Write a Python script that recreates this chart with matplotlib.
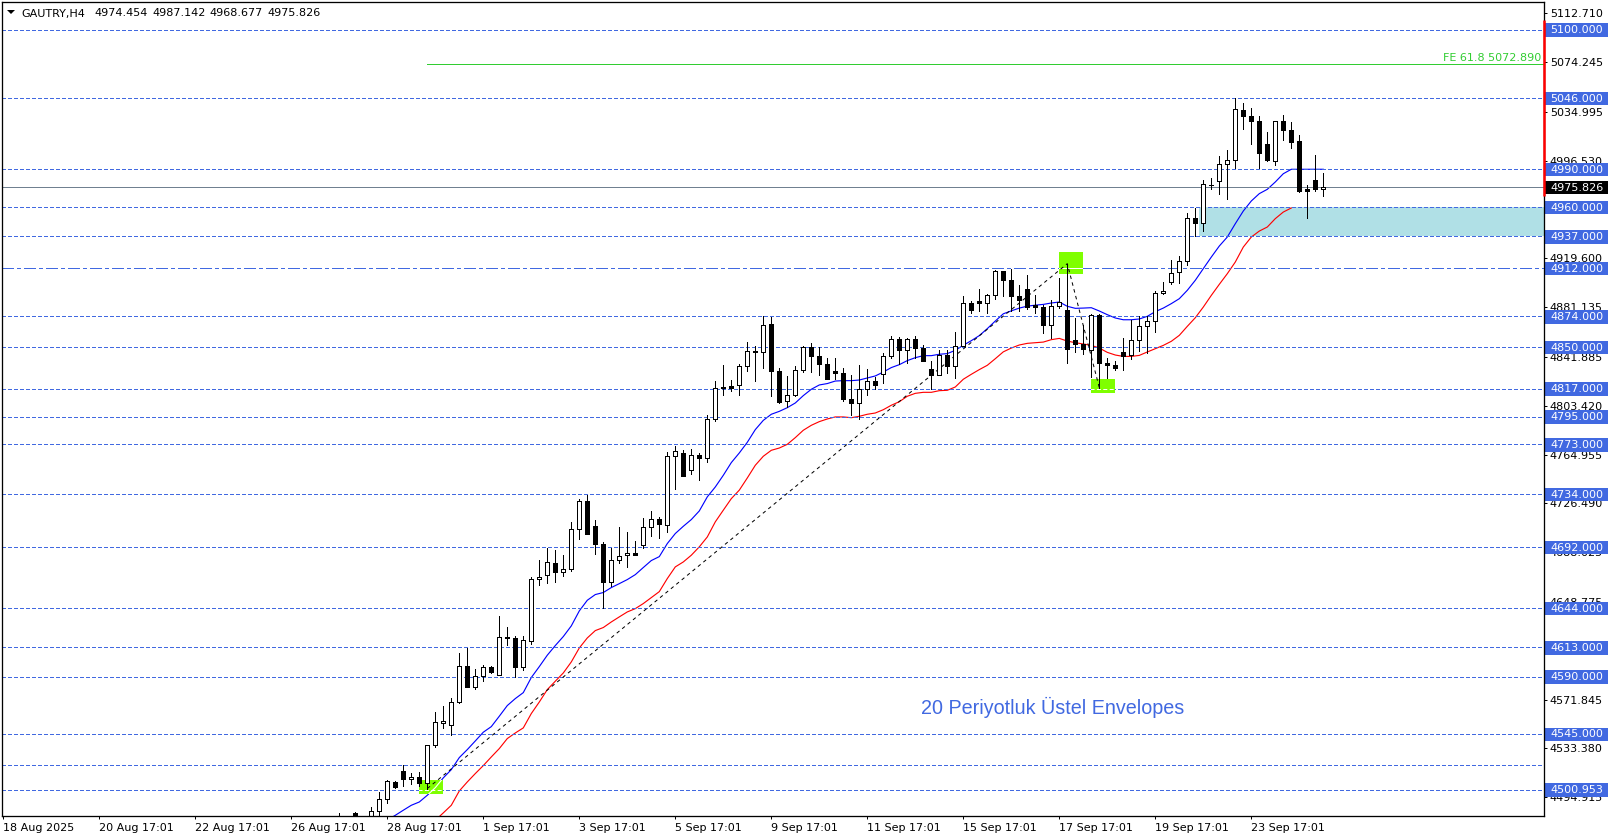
import matplotlib
matplotlib.use("Agg")
import matplotlib.pyplot as plt
from matplotlib.patches import Rectangle, Polygon

# chart values, bar number = first_bar + list position
first_bar = 42
opens = [4474, 4474, 4482.8, 4470, 4478, 4484.4, 4493.9, 4507.3, 4516, 4509.6,
         4511.2, 4506.5, 4536.4, 4553.8, 4552.2, 4570.3, 4598.7, 4582.2, 4590.8, 4597.9,
         4591.6, 4620.5, 4620.8, 4597.9, 4618.4, 4667.3, 4670.4, 4679.9, 4672.8, 4675.2,
         4706.7, 4728.8, 4709.1, 4694.9, 4664.9, 4682.3, 4686.2, 4687.8, 4694.1, 4708.3,
         4714.6, 4709.9, 4764.2, 4766.6, 4753.1, 4765, 4762.6, 4793.4, 4817.5, 4818.8,
         4820.2, 4835.1, 4846.9, 4846.2, 4868.2, 4831.2, 4807.5, 4812.3, 4832, 4850.1,
         4843, 4836.7, 4831.2, 4829.6, 4809.1, 4806, 4817, 4823.3, 4828.8, 4843,
         4856.4, 4847.7, 4856.4, 4849.3, 4832.8, 4828, 4843.8, 4835.1, 4850.9, 4884.8,
         4886.4, 4884.8, 4891.1, 4910, 4902.9, 4890.3, 4895.8, 4883.2, 4881.6, 4867.4,
         4882.4, 4879.2, 4855.6, 4852.4, 4847.7, 4875.3, 4837.5, 4835.9, 4846.1, 4843.8,
         4855.6, 4866.6, 4870.6, 4892.6, 4901.3, 4909.2, 4917.9, 4951.8, 4947.8, 4977.2,
         4980.9, 4994.3, 4997.5, 5036.9, 5032.2, 5028.2, 5010.1, 4996.7, 5028.2, 5021.1,
         5011.9, 4974.1, 4981.2, 4974.454]
highs = [4482.8, 4480.5, 4483.6, 4475, 4487.6, 4498.9, 4508.9, 4508, 4520.7, 4514.4,
         4515.2, 4536.4, 4562.5, 4567.2, 4573.5, 4609, 4612.9, 4596.3, 4599.5, 4598,
         4638.1, 4629.5, 4622.4, 4622.4, 4668.9, 4682.3, 4691.7, 4690.1, 4686.2, 4712.2,
         4730.3, 4733.5, 4713.8, 4696.5, 4691.7, 4708.3, 4704.3, 4697.2, 4715.4, 4720.9,
         4716.2, 4767.3, 4772.1, 4768.9, 4769.7, 4766.6, 4796.5, 4823.3, 4835.9, 4824.1,
         4836.7, 4854, 4850.9, 4874.5, 4873.8, 4833.6, 4827.2, 4835.1, 4850.9, 4853.3,
         4850.1, 4841.4, 4841.4, 4833.6, 4828, 4835.9, 4832.8, 4826.5, 4845.4, 4858.8,
         4858, 4857.2, 4858.8, 4851.7, 4839, 4847.7, 4847.7, 4861.9, 4890.3, 4886.4,
         4895.8, 4891.9, 4910.8, 4910, 4911.6, 4898.9, 4906.8, 4891.1, 4883.2, 4887.1,
         4904.5, 4915.5, 4872.9, 4867.4, 4876.1, 4876.1, 4841.4, 4839, 4857.2, 4871.3,
         4874.5, 4874.5, 4894.2, 4901.3, 4918.6, 4921.8, 4955.7, 4959.6, 4981.7, 4983.3,
         5000.6, 5005.3, 5046.3, 5042.4, 5038.5, 5032.2, 5019.5, 5028.2, 5032.9, 5027.4,
         5017.2, 4977.3, 5000.9, 4987.142]
lows = [4470, 4470, 4478.1, 4465, 4475, 4479.4, 4490.5, 4502.5, 4503.9, 4505.4,
        4503.9, 4501.8, 4534.6, 4549.6, 4544.1, 4569.6, 4582, 4580.6, 4586.6, 4593.2,
        4591.6, 4615.3, 4590, 4595.6, 4616, 4662.3, 4664.1, 4664.9, 4669.4, 4673.6,
        4698.8, 4702.8, 4687, 4644.4, 4661.8, 4679.9, 4676.5, 4686.2, 4691.7, 4701.2,
        4699.6, 4704.1, 4738, 4748, 4750, 4745, 4759.5, 4791.8, 4812.3, 4815.4,
        4812.3, 4831.2, 4823.3, 4833.6, 4811.5, 4806, 4802.8, 4811.5, 4830.4, 4830.4,
        4828, 4824.9, 4824.9, 4807.5, 4796.5, 4793.4, 4812.3, 4817, 4821.7, 4841.4,
        4836.7, 4837.5, 4841.4, 4839, 4817, 4828, 4829.6, 4825.7, 4850.9, 4876.9,
        4878.5, 4876.9, 4887.9, 4890, 4878.4, 4878.4, 4880, 4876.9, 4861.1, 4857.2,
        4880.8, 4837.5, 4846.1, 4844.5, 4826.4, 4817.8, 4825.6, 4832, 4832, 4840.6,
        4846.9, 4845.3, 4861.9, 4891.8, 4899.7, 4900.5, 4914.7, 4937.6, 4941.5, 4974.6,
        4970.7, 4966.7, 4991.2, 5021.9, 5010.1, 4991.2, 4996.7, 4993.5, 5013.2, 5006.9,
        4971.7, 4951.2, 4972.5, 4968.677]
closes = [4476, 4472, 4478.9, 4473, 4484.4, 4493.9, 4508.1, 4503.1, 4509.6, 4511.2,
          4506.5, 4536.4, 4554.6, 4555.4, 4570.3, 4598.7, 4582.2, 4590.8, 4597.9, 4594,
          4621.6, 4621, 4597.9, 4619.2, 4667.3, 4668.9, 4680.7, 4672.8, 4675.2, 4706.7,
          4728.8, 4702.8, 4694.9, 4664.9, 4682.3, 4685.4, 4687.8, 4686.2, 4708.3, 4714.6,
          4710.6, 4764.2, 4768.1, 4748.2, 4765, 4762.6, 4793.4, 4817.8, 4818, 4817.5,
          4835.1, 4846.9, 4845.9, 4867.4, 4831.2, 4806.7, 4812.3, 4832, 4850.1, 4843,
          4836.7, 4824.9, 4829.6, 4809.1, 4806, 4817, 4823.3, 4820.2, 4843, 4856.4,
          4847.7, 4856.4, 4849.3, 4839, 4828, 4843.8, 4835.1, 4850.9, 4884.8, 4879.3,
          4884.8, 4891.1, 4910, 4902.9, 4890.3, 4887.1, 4881.6, 4881.6, 4867.4, 4882.4,
          4885.5, 4848.5, 4852.4, 4848.5, 4875.3, 4837.5, 4835.9, 4833.5, 4843, 4855.6,
          4866.6, 4870.6, 4892.6, 4894.2, 4908.4, 4917.9, 4951.8, 4947.8, 4978.6, 4977.8,
          4994.3, 4997.5, 5037.7, 5032.2, 5028.2, 5003, 4997.5, 5028.2, 5021.1, 5011.7,
          4972.5, 4972.5, 4974.1, 4975.826]

# envelope bands
blue_first_bar = 48
blue_band = [4477, 4480.7, 4484.7, 4488.6, 4491.2, 4496.5, 4502.5, 4510.2, 4516.7, 4526.2,
             4532.5, 4539.3, 4546.2, 4550.6, 4558.8, 4567.2, 4572.7, 4577.4, 4589.3, 4597.9,
             4606.9, 4614.5, 4621.6, 4630, 4641.8, 4650.2, 4654.7, 4656.3, 4660.2, 4663.3,
             4666.5, 4670.4, 4676, 4681.5, 4684.6, 4694.9, 4702.8, 4708.5, 4713.8, 4720.6,
             4731.7, 4739.5, 4748.7, 4758.7, 4766.3, 4774.7, 4784.7, 4792, 4796.8, 4799.1,
             4802, 4805.7, 4811.5, 4816.5, 4819.9, 4821, 4823, 4823.3, 4823.3, 4823.8,
             4825.4, 4827, 4830.1, 4833.6, 4835.9, 4839.1, 4841.4, 4843, 4843, 4844.1,
             4844.6, 4847.2, 4851.2, 4854.8, 4858.8, 4864.3, 4870.3, 4876, 4878.3, 4880.5,
             4882, 4882.8, 4883.4, 4884.5, 4885.3, 4881.9, 4880.3, 4880.5, 4880.8, 4878.2,
             4875.3, 4872.7, 4871.3, 4871.3, 4871.9, 4874, 4877.7, 4880.5, 4884, 4887.9,
             4894.5, 4902.4, 4911.6, 4920.7, 4929.4, 4936.5, 4947, 4957, 4964.9, 4970.7,
             4974.1, 4979.9, 4986.4, 4989.9, 4989.9, 4989.9, 4989.9, 4989.9]
red_first_bar = 54
red_band = [4476.8, 4482.6, 4488.6, 4499.9, 4507, 4513.6, 4519.9, 4526.7, 4533.3, 4541.2,
            4545.6, 4549.6, 4560.9, 4570, 4579.8, 4586.4, 4592.9, 4601.6, 4612.6, 4620.5,
            4626.3, 4628.7, 4633.1, 4637.1, 4641, 4643.6, 4647.6, 4652.3, 4657, 4667.3,
            4676.5, 4680.4, 4685.7, 4692.3, 4700.1, 4712, 4721.2, 4730.3, 4737, 4746.6,
            4756.6, 4763.7, 4768.4, 4770.2, 4773.1, 4778.4, 4784.2, 4788.1, 4791, 4793.1,
            4794.7, 4794.7, 4794.1, 4795.2, 4796.8, 4797.8, 4800.4, 4803.9, 4806.7, 4811,
            4813.3, 4814.1, 4814.1, 4815.4, 4815.7, 4818.3, 4824.4, 4828.3, 4832, 4835.4,
            4840.6, 4846, 4849, 4851.4, 4852.7, 4853.2, 4853.7, 4855.6, 4856.6, 4854.5,
            4853.2, 4852.2, 4851.1, 4849, 4845.6, 4843.5, 4842.4, 4842.4, 4843.2, 4845.9,
            4848.5, 4851.1, 4854.3, 4859, 4866.1, 4872.9, 4881.3, 4890.5, 4899.2, 4907.6,
            4916.8, 4928.6, 4936.5, 4941.2, 4944.4, 4951, 4956.2, 4959.4]

# levels
labelled_levels = [5100, 5046, 4990, 4960, 4937, 4874, 4850, 4817, 4795, 4773, 4734,
                   4692, 4644, 4613, 4590, 4545, 4500.953]
plain_levels = [4520]
dashdot_level = 4912
last_price = 4975.826
fe_level = 5072.89
fe_start_bar = 53
fe_label = "FE 61.8 5072.890"
zone_low, zone_high = 4937, 4960
zone_start_bar = 149
red_bar_range = (4968.8, 5107.9)

# zigzag through the swing low, swing high and pullback low
swing_bars = [53, 133, 137]
# green boxes as (bar from, bar to, price low, price high)
green_boxes = [(52, 55, 4497.5, 4508.8),
               (132, 135, 4907.4, 4924.5),
               (136, 139, 4813.3, 4824.4)]

y_ticks = [5112.71, 5074.245, 5034.995, 4996.53, 4919.6, 4881.135, 4841.885, 4803.42,
           4764.955, 4726.49, 4688.025, 4648.775, 4610.31, 4571.845, 4533.38, 4494.915]
date_ticks = ["18 Aug 2025", "20 Aug 17:01", "22 Aug 17:01", "26 Aug 17:01", "28 Aug 17:01",
              "1 Sep 17:01", "3 Sep 17:01", "5 Sep 17:01", "9 Sep 17:01", "11 Sep 17:01",
              "15 Sep 17:01", "17 Sep 17:01", "19 Sep 17:01", "23 Sep 17:01"]
title_parts = ["GAUTRY,H4", "4974.454", "4987.142", "4968.677", "4975.826"]
note = "20 Periyotluk Üstel Envelopes"

W, H = 1614, 840
left, right, top, bottom = 2.3, 1543.7, 2.3, 816.3
px_per_bar = 8.0
px_per_price = 1.2687
ONE_PX = 0.72
BLUE = "#4169E1"

fig = plt.figure(figsize=(W / 100, H / 100), dpi=100, facecolor="white")
ax = fig.add_axes([left / W, 1 - bottom / H, (right - left) / W, (bottom - top) / H])
ax.set_xlim((left - 3.3) / px_per_bar, (right - 3.3) / px_per_bar)
# a little lower than the raw reading so the snapped lines land on the reference rows
ax.set_ylim(5100 - (bottom - 29.6) / px_per_price, 5100 + (29.6 - top) / px_per_price)
ax.set_axisbelow(True)
for s in ax.spines.values():
    s.set_linewidth(ONE_PX * 1.3)
    s.set_zorder(8)

ax.yaxis.tick_right()
ax.set_yticks(y_ticks, [f"{t:.3f}" for t in y_ticks], fontsize=8)
ax.set_xticks(range(0, 12 * len(date_ticks), 12), date_ticks, fontsize=8, ha="left")
ax.tick_params(axis="y", length=2.2, width=ONE_PX, pad=2.2)
ax.tick_params(axis="x", length=2.2, width=ONE_PX, pad=2.5)

# zone, bands, levels
yt = ax.get_yaxis_transform()
zone_end = (ax.get_xlim()[1])
ax.add_patch(Rectangle((zone_start_bar + 0.5, zone_low), zone_end - zone_start_bar - 0.5,
                       zone_high - zone_low, color="#B0E0E6", lw=0, zorder=1))
blue_x = [blue_first_bar + i for i in range(len(blue_band))]
red_x = [red_first_bar + i for i in range(len(red_band))]
ax.plot(blue_x, blue_band, color="#0000FF", lw=ONE_PX * 1.15, zorder=2)
ax.plot(red_x, red_band, color="#FF0000", lw=ONE_PX * 1.15, zorder=2)

dash = (0, (4, 2.4))
dashdot = (0, (11, 4, 3, 4))
for p in labelled_levels + plain_levels:
    ax.axhline(p, color=BLUE, lw=ONE_PX, ls=dash, zorder=3, antialiased=False)
ax.axhline(dashdot_level, color=BLUE, lw=ONE_PX, ls=dashdot, zorder=3, antialiased=False)
ax.axhline(last_price, color="#708090", lw=ONE_PX, zorder=3, antialiased=False)
ax.plot([fe_start_bar, ax.get_xlim()[1]], [fe_level, fe_level], color="#32CD32", lw=ONE_PX, zorder=3,
        antialiased=False)
ax.text((right - 2.5 - 3.3) / px_per_bar, fe_level + 2.0, fe_label, color="#32CD32", fontsize=8,
        ha="right", va="baseline", zorder=5)

# green boxes, the lines under them show up white
for b0, b1, p0, p1 in green_boxes:
    box = Rectangle((b0, p0), b1 - b0, p1 - p0, color="#7FFF00", lw=0, zorder=3.2)
    ax.add_patch(box)
    for p in labelled_levels:
        if p0 < p < p1:
            ax.axhline(p, color="white", lw=ONE_PX, ls=dash, zorder=3.3).set_clip_path(box)
    if p0 < dashdot_level < p1:
        ax.axhline(dashdot_level, color="white", lw=ONE_PX, zorder=3.3).set_clip_path(box)
    ax.plot(blue_x, blue_band, color="white", lw=ONE_PX * 1.15, zorder=3.3)[0].set_clip_path(box)

# zigzag
swing_y = [lows[swing_bars[0] - first_bar], highs[swing_bars[1] - first_bar], lows[swing_bars[2] - first_bar]]
ax.plot(swing_bars, swing_y, color="black", lw=ONE_PX, ls=(0, (3.5, 3.5)), zorder=3.5)

# candles
bars = [first_bar + i for i in range(len(opens))]
ax.vlines(bars, lows, highs, color="black", lw=ONE_PX, zorder=4, antialiased=False)
body_bottom = [min(o, c) for o, c in zip(opens, closes)]
body_height = [abs(c - o) for o, c in zip(opens, closes)]
body_color = ["white" if c >= o else "black" for o, c in zip(opens, closes)]
ax.bar(bars, body_height, width=0.5, bottom=body_bottom, color=body_color, edgecolor="black",
       linewidth=ONE_PX, zorder=4.5, antialiased=False)

# price boxes on the right axis
box_x0 = (1545 - left) / (right - left)
box_w = (1608 - 1545) / (right - left)
text_x = (1550 - left) / (right - left)
box_h = 13.4 / px_per_price
for p in labelled_levels + [dashdot_level]:
    ax.add_patch(Rectangle((box_x0, p - box_h / 2 - 0.4), box_w, box_h, transform=yt, clip_on=False,
                           color=BLUE, lw=0, zorder=6))
    ax.text(text_x, p - 0.6, f"{p:.3f}", transform=yt, color="white", fontsize=8, va="center",
            ha="left", zorder=7, clip_on=False)
ax.add_patch(Rectangle((box_x0, last_price - box_h / 2 - 0.4), box_w, box_h, transform=yt, clip_on=False,
                       color="black", lw=0, zorder=6))
ax.text(text_x, last_price - 0.6, f"{last_price:.3f}", transform=yt, color="white", fontsize=8,
        va="center", ha="left", zorder=7, clip_on=False)
ax.plot([1, 1], red_bar_range, transform=yt, color="#FF0000", lw=1.8, clip_on=False,
        solid_capstyle="butt", zorder=9)

# title row and note
fig.add_artist(Polygon([(7 / W, 1 - 10 / H), (15 / W, 1 - 10 / H), (11 / W, 1 - 14 / H)],
                       transform=fig.transFigure, color="black", lw=0))
for part, x in zip(title_parts, [21, 94.5, 152, 209.5, 267]):
    fig.text(x / W, 1 - 16.5 / H, part, fontsize=8, color="black", ha="left", va="baseline")
fig.text(921.5 / W, 1 - 714 / H, note, fontsize=14.2, color=BLUE, family="Liberation Sans", ha="left", va="baseline")

fig.savefig("out.png", dpi=100)
